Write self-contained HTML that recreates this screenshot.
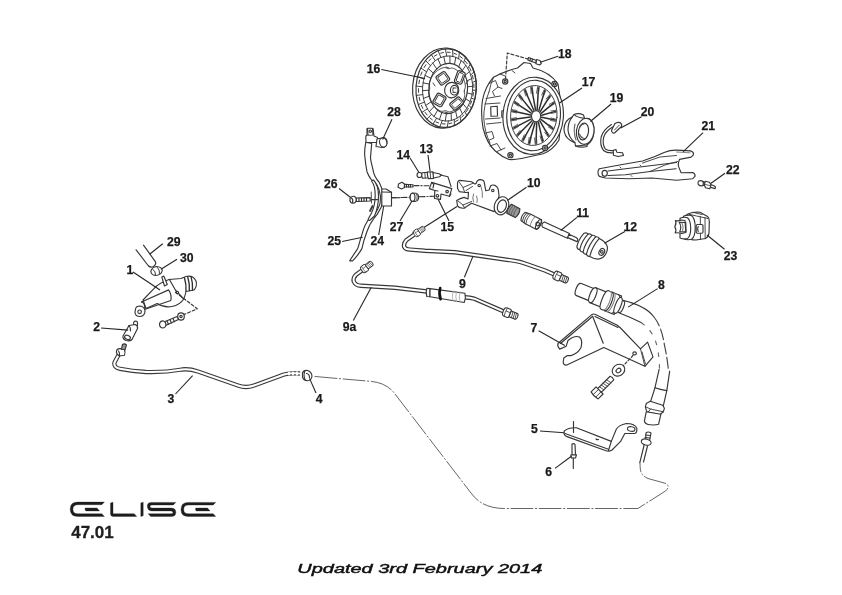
<!DOCTYPE html>
<html><head><meta charset="utf-8"><style>
html,body{margin:0;padding:0;background:#fff;}
svg{display:block;will-change:transform;}
.lbl text{font-family:"Liberation Sans",sans-serif;font-weight:bold;font-size:12.2px;fill:#1a1a1a;stroke:#1a1a1a;stroke-width:0.25px;}
.ld line{stroke:#262626;stroke-width:1.1;}
.p{fill:none;stroke:#363636;stroke-width:1.15;stroke-linejoin:round;stroke-linecap:round;}
.pf{fill:#fff;stroke:#363636;stroke-width:1.15;stroke-linejoin:round;}
</style></head><body>
<svg width="842" height="595" viewBox="0 0 842 595">
<rect width="842" height="595" fill="#fff"/>
<g class="p">
<!-- hose 29 -->
<path d="M136.1,249.8 L148.1,265.5 Q150.5,268.2 153.5,266.5 Q156.5,264.5 155.5,261.8 L143.5,245.2"/>
<!-- clip 30 -->
<path class="pf" d="M150.8,271.5 Q152,267 156.5,266.5 Q161.8,266.8 162.3,270.5 Q161.5,274.8 156,275.5 Q151.5,275.5 150.8,271.5Z" stroke-width="1.3"/>
<path d="M153,269.5 Q156,271.5 155.5,275 M157.5,267.5 Q160,270 159.5,273.5" stroke-width="1"/>
<!-- body -->
<path class="pf" d="M154.2,288.4 Q158,283.5 169,279.5 L181,278.5 L186,276.5 Q193,275 196,281 Q197.5,286 194,290 L186,291.5 Q185,296 183.7,299 Q180,305 172,306.5 Q164,308 157.2,303.5 L146,308.5 L143,300 Z"/>
<path d="M184.5,278 Q186.5,284.5 186,291.2 M187.8,277.2 Q189.8,283.5 189.3,290.6 M191,276.6 Q193,283 192.5,290" stroke-width="1.35" stroke="#2e2e2e"/>
<path d="M169.3,279.3 L175.4,290 L183.7,299"/>
<path d="M141.5,302 L168.6,289.9 M144.5,309.5 L170.8,300.5 Q172,295 168.6,289.9"/>
<path d="M141.5,302 Q145.5,303 144.5,309.5"/>
<path class="pf" d="M161.8,277 L163.8,276 L167.3,284.5 L164.5,286 Z"/>
<circle class="pf" cx="177.3" cy="292.5" r="1.2"/>
<!-- nut -->
<path class="pf" d="M135.5,309 Q136,306 140,306 Q144.5,306.5 145,311 Q145,316 140,316.5 Q135,316.5 135,312 Z"/>
<circle cx="139.6" cy="311.8" r="1.8"/>
<!-- dashed to washer -->
<path d="M175.4,292.2 L197.3,308.8 L181.4,315.6" stroke-dasharray="3,2"/>
<ellipse class="pf" cx="181" cy="316.5" rx="3.3" ry="3.6"/>
<circle cx="181" cy="316.5" r="1.2"/>
<!-- bolt -->
<path class="pf" d="M164,322 L177,316.5 L178.5,319.5 L165.5,325.5 Z"/>
<path d="M167,321 L168.5,324.2 M170,319.8 L171.5,323 M173,318.6 L174.5,321.8"/>
<path class="pf" d="M159.5,324 Q160,320.5 163.5,321 Q166,322 166,325 Q165.5,328 162.5,328 Q159.5,327.5 159.5,324Z"/>
</g>
<g class="p">
<path class="pf" d="M133.8,322 Q135,320.5 137,321.5 Q137.8,323 137.5,325 L136.5,326.5 L133.5,325 Z"/>
<path class="pf" d="M129,325.5 L135.5,324.5 Q138,326 137.5,328.5 L132,339.5 Q130,341.5 126,340.5 Q122.5,339 123,336 Z"/>
<ellipse cx="127.5" cy="337.4" rx="3" ry="2" transform="rotate(20 127.5 337.4)"/>
<path d="M129,325.5 Q131,328 130.5,331"/>
</g>
<path d="M118.5,355 L114.5,362.5 Q113.5,367.5 120,368.8 Q132,371 146,372 Q165,372.5 182,369.5 Q189,368.5 198,371.5 L238,385.5 Q246,388.5 254,385.5 L284,374.5 Q290,372.8 300,373.5" fill="none" stroke="#3a3a3a" stroke-width="4.3" stroke-linejoin="round"/>
<path d="M118.5,355 L114.5,362.5 Q113.5,367.5 120,368.8 Q132,371 146,372 Q165,372.5 182,369.5 Q189,368.5 198,371.5 L238,385.5 Q246,388.5 254,385.5 L284,374.5 Q290,372.8 300,373.5" fill="none" stroke="#fff" stroke-width="2.1" stroke-linejoin="round"/>
<path d="M288,372.4 L300,372.2 M288,374.6 L300,374.8" stroke="#fff" stroke-width="1.3" stroke-dasharray="2,2"/>
<g class="p">
<path class="pf" d="M116.5,351 Q117,348.5 120,348.6 L124.5,349.5 Q125.5,352.5 124.5,355.3 L119.5,356 Q116,354 116.5,351Z"/>
<path d="M118.5,351 Q120,353 119.5,355.5"/>
<path d="M121.4,349.3 L122.5,344.5 Q124.5,343 126.4,345 L125,349.8 Z" fill="#999"/>
</g>
<g class="p">
<path class="pf" d="M302.5,373 Q303.5,370 307.5,370.5 Q311.5,371.5 312,376 Q311.5,380.5 307.5,380.8 Q303.5,380.5 302.5,377 Z"/>
<path d="M304.8,371 Q303,376 305.5,380.5 M306.5,373.5 Q309.5,374 309.5,377.5"/>
<path d="M315,376.5 L371.3,381.4 Q387,383 395,394 L471,493 Q482,508.5 504.3,508.5 L637.9,508.5 L665.5,491 Q670.5,486.5 666,483.5 L648,478.5 Q640.5,475.5 640.2,468 L640,463" stroke="#555" stroke-width="0.9" stroke-dasharray="22,2.5,1.2,2.5"/>
</g>
<g class="p">
<path class="pf" d="M592.1,314.4 Q593.5,313.5 595.5,314.5 L616.8,325 L620,327.5 L640.5,348.8 L647.6,342.1 L653,356.9 L644.9,366.3 L603.8,347.4 L566.8,365 Q563.5,365.5 563.2,362 L563.8,358 L567.4,355.6 L570.9,355.6 Q578,353.5 581,347.5 Q583,340 579.5,337 Q574.5,335 568,340.5 L566.2,346.2 L559.7,349.1 Q557,346 558,343.5 L560.3,341.5 Z"/>
<path d="M560.5,343.5 L592.5,316.5 M595,316.5 L618,327.5"/>
<path d="M592.6,316.2 L603.2,343.2"/>
<path d="M640.5,348.8 L644.9,366.3 M642,352 L645.5,364" stroke-width="0.9"/>
<ellipse cx="634.6" cy="353.4" rx="1.8" ry="1.5"/>
<path d="M633,355.5 L622,367" stroke-dasharray="2.5,2"/>
<ellipse class="pf" cx="618.5" cy="370.2" rx="6.6" ry="5.6" transform="rotate(-35 618.5 370.2)"/>
<ellipse cx="618.5" cy="370.5" rx="2.6" ry="2" transform="rotate(-35 618.5 370.5)"/>
<g transform="translate(598.5,391.5) rotate(-45)">
<path class="pf" d="M1,-2.6 L19,-2.6 Q20.5,0 19,2.6 L1,2.6 Z"/>
<path d="M4,-2.6 L5,2.6 M6.5,-2.6 L7.5,2.6 M9,-2.6 L10,2.6 M11.5,-2.6 L12.5,2.6 M14,-2.6 L15,2.6" stroke-width="0.8"/>
<path class="pf" d="M-5.5,-5 L1.5,-5 L1.5,5 L-5.5,5 Q-7,0 -5.5,-5Z"/>
<path d="M-5.5,-1.5 L1.5,-1.5 M-5.5,2 L1.5,2" stroke-width="0.9"/>
</g>
</g>
<g class="p">
<g transform="translate(578,289.2) rotate(22)">
<path class="pf" d="M1,-6.5 L17,-6.5 L17,6.5 L1,6.5 Q-2,6.5 -2,0 Q-2,-6.5 1,-6.5Z"/>
<path class="pf" d="M16,-8 L31,-8 L31,8 L16,8 Q13,8 13,0 Q13,-8 16,-8Z"/>
<path d="M16,-8 Q19,-8 19,0 Q19,8 16,8"/>
<path class="pf" d="M29,-10 L43,-10 L43,10 L29,10 Q26,10 26,0 Q26,-10 29,-10Z"/>
<path d="M31,-10 Q34,-9 34,0 Q34,9 31,10 M35,-10 Q38,-9 38,0 Q38,9 35,10" stroke="#888"/>
<path d="M33,-10 Q36,-9 36,0 Q36,9 33,10"/>
<path d="M40,-10 Q43,-9 43,0 Q43,9 40,10"/>
<path class="pf" d="M43,-8.5 Q46,-8.5 46,0 Q46,8.5 43,8.5 Q40.5,8.5 40.5,0 Q40.5,-8.5 43,-8.5Z"/>
<path d="M47,-6 Q49,-6 49,0 Q49,6 47,6"/>
</g>
<path d="M623,300.4 Q645,305.5 653.6,316.5"/>
<path d="M653.6,316.5 Q661.5,326 664.4,344.8 Q667,356 668.5,371" stroke="#444" stroke-dasharray="11,3.5"/>
<path d="M618.2,312.5 Q630,317 641,322.5"/>
<path d="M641,322.5 Q651,329 655.5,341 Q659,351 659.5,368" stroke="#666" stroke-dasharray="4,8"/>
<path d="M669.7,371.2 L666.8,390.6 L663.3,405.9 M659.1,369.4 L655,387.7 L650.3,402.4"/>
<path d="M655,387.7 Q660,389.5 666.8,390.6"/>
<path class="pf" d="M646.2,403.6 L650.3,401.2 L662.7,405.3 L664.4,408.3 L663.3,411.8 L659.7,414.8 L646.8,411.8 L645.4,407.1 Z"/>
<path d="M646,407 L650.5,409 L662,411.5 M650.5,409 L648,412.3 M662,411.5 L663.3,411.8" stroke-width="0.9"/>
<path class="pf" d="M646.2,411.8 L644.4,421.2 Q645.5,424.5 650.3,424.8 Q655,425.3 658.6,424.2 L660.9,414.2 Z"/>
<!-- lower fitting -->
<path class="pf" d="M646,433 Q648,431 651,433 L649.5,441 L645.5,440.5 Z"/>
<path d="M645.5,435 L650.5,435.5 M645,437.5 L650,438"/>
<ellipse class="pf" cx="646.2" cy="442.1" rx="5" ry="3" transform="rotate(15 646.2 442.1)"/>
<path d="M644,445.5 L639.8,462.7 M647.5,446 L643.5,462"/>
</g>
<g class="p">
<path class="pf" d="M576.4,427.8 L611.3,441.4 L616.3,429.2 Q619,425 626.3,423.5 Q635,423.5 636.9,428.5 Q637,433 634.8,433.5 L624.8,433.5 L620.6,441.4 L612,450 Q609,452 606,450.8 L566.4,436.4 Q563,434.5 564.3,431 Q568,427.5 576.4,427.8Z"/>
<path d="M565,433.5 L608.4,449.3"/>
<path d="M611.3,441.4 L608.5,450.5"/>
<ellipse cx="631.2" cy="429" rx="3.8" ry="2.3" transform="rotate(10 631.2 429)"/>
<path d="M573.5,421.5 L573.5,432.5"/>
<path d="M596,439 Q597,440 598.5,439.5"/>
<path class="pf" d="M572,444 Q574,443 575,444.5 L575.5,455 L572,455 Z"/>
<path class="pf" d="M570.8,455 L576.5,454.8 L575.5,458 L571.5,458 Z"/>
<path d="M573.3,458 L573.3,468.5"/>
</g>
<g class="p">
<path d="M416.5,233 L406.5,240 Q403.2,243.5 404.2,246.8 Q405.5,249.5 410,249.6 L425,250.8 Q440,251.4 455,252.2 L515,260.9 Q520,261.6 525,263.5 L545,270.5 L555,274.8" stroke-width="4.4" stroke="#383838" stroke-linejoin="round"/>
<path d="M416.5,233 L406.5,240 Q403.2,243.5 404.2,246.8 Q405.5,249.5 410,249.6 L425,250.8 Q440,251.4 455,252.2 L515,260.9 Q520,261.6 525,263.5 L545,270.5 L555,274.8" stroke-width="2.0" stroke="#fff" stroke-linejoin="round"/>
<path d="M363.3,269.4 L356,274.8 Q352.8,277.8 353.8,281.5 Q355.5,285.5 361,285.8 L395,287.8 L427,291.5" stroke-width="4.4" stroke="#383838" stroke-linejoin="round"/>
<path d="M363.3,269.4 L356,274.8 Q352.8,277.8 353.8,281.5 Q355.5,285.5 361,285.8 L395,287.8 L427,291.5" stroke-width="2.0" stroke="#fff" stroke-linejoin="round"/>
<path d="M464.5,297.3 Q470,297.8 474.3,298.7 L504,311.6" stroke-width="4.4" stroke="#383838" stroke-linejoin="round"/>
<path d="M464.5,297.3 Q470,297.8 474.3,298.7 L504,311.6" stroke-width="2.0" stroke="#fff" stroke-linejoin="round"/>
<g transform="translate(414.5,234.5) rotate(-34) scale(0.75)">
<path class="pf" d="M0,-3.2 Q0.5,-4.6 2.5,-4.6 L6,-4.6 Q7.5,-4.6 7.5,-3 L7.5,3 Q7.5,4.6 6,4.6 L2.5,4.6 Q0.5,4.6 0,3.2 Q-0.8,0 0,-3.2Z"/>
<path d="M2.5,-4.4 Q1.8,0 2.5,4.4 M2.8,-1.2 L7.2,-1.2" stroke-width="0.8"/>
<path class="pf" d="M7.5,-3.2 L14.5,-3.2 Q16,-3.2 16,0 Q16,3.2 14.5,3.2 L7.5,3.2 Z"/>
<path d="M9.5,-3.2 L10.3,3.2 M11.5,-3.2 L12.3,3.2 M13.5,-3.2 L14.3,3.2" stroke-width="0.8"/>
</g>
<g transform="translate(554,274.5) rotate(24) scale(0.95)">
<path class="pf" d="M0,-3.2 Q0.5,-4.6 2.5,-4.6 L6,-4.6 Q7.5,-4.6 7.5,-3 L7.5,3 Q7.5,4.6 6,4.6 L2.5,4.6 Q0.5,4.6 0,3.2 Q-0.8,0 0,-3.2Z"/>
<path d="M2.5,-4.4 Q1.8,0 2.5,4.4 M2.8,-1.2 L7.2,-1.2" stroke-width="0.8"/>
<path class="pf" d="M7.5,-3.2 L14.5,-3.2 Q16,-3.2 16,0 Q16,3.2 14.5,3.2 L7.5,3.2 Z"/>
<path d="M9.5,-3.2 L10.3,3.2 M11.5,-3.2 L12.3,3.2 M13.5,-3.2 L14.3,3.2" stroke-width="0.8"/>
</g>
<g transform="translate(362,270.5) rotate(-37) scale(0.8)">
<path class="pf" d="M0,-3.2 Q0.5,-4.6 2.5,-4.6 L6,-4.6 Q7.5,-4.6 7.5,-3 L7.5,3 Q7.5,4.6 6,4.6 L2.5,4.6 Q0.5,4.6 0,3.2 Q-0.8,0 0,-3.2Z"/>
<path d="M2.5,-4.4 Q1.8,0 2.5,4.4 M2.8,-1.2 L7.2,-1.2" stroke-width="0.8"/>
<path class="pf" d="M7.5,-3.2 L14.5,-3.2 Q16,-3.2 16,0 Q16,3.2 14.5,3.2 L7.5,3.2 Z"/>
<path d="M9.5,-3.2 L10.3,3.2 M11.5,-3.2 L12.3,3.2 M13.5,-3.2 L14.3,3.2" stroke-width="0.8"/>
</g>
<g transform="translate(503.5,311.2) rotate(22) scale(0.95)">
<path class="pf" d="M0,-3.2 Q0.5,-4.6 2.5,-4.6 L6,-4.6 Q7.5,-4.6 7.5,-3 L7.5,3 Q7.5,4.6 6,4.6 L2.5,4.6 Q0.5,4.6 0,3.2 Q-0.8,0 0,-3.2Z"/>
<path d="M2.5,-4.4 Q1.8,0 2.5,4.4 M2.8,-1.2 L7.2,-1.2" stroke-width="0.8"/>
<path class="pf" d="M7.5,-3.2 L14.5,-3.2 Q16,-3.2 16,0 Q16,3.2 14.5,3.2 L7.5,3.2 Z"/>
<path d="M9.5,-3.2 L10.3,3.2 M11.5,-3.2 L12.3,3.2 M13.5,-3.2 L14.3,3.2" stroke-width="0.8"/>
</g>
<path class="pf" d="M426.8,288.3 L430,288.6 L430,296.8 L426.8,296.5 Q425.6,292.4 426.8,288.3 Z"/>
<path class="pf" d="M430,288.6 L464.9,293.2 Q466.2,297.8 464.2,302.5 L430,296.8 Z"/>
<path d="M440.2,288 Q438.6,293.5 440.6,299.2" stroke-width="2.6" stroke="#111"/>
<path d="M453,291 Q451.5,296.5 453,301 M456.5,291.5 Q455,296.8 456.5,301.5 M460,292 Q458.5,297 460,302" stroke="#aaa" stroke-width="0.9"/>

</g>
<g class="p">
<!-- 14 nut & 13 nipple -->
<circle class="pf" cx="419.5" cy="175" r="2.5"/>
<path class="pf" d="M422,172.8 L427.5,172.2 L428.5,177.8 L422.5,178.3 Q421.3,175.5 422,172.8Z"/>
<path class="pf" d="M427.5,172 L433,171.8 Q434,175 433.5,178.5 L428.3,178.6 Q427,175.3 427.5,172Z"/>
<path class="pf" d="M433,172.5 L439,173.8 L441.5,175 L439.5,176.8 L433.5,178 Z"/>
<path d="M424.8,172.5 L425.3,178 M430.2,172 L430.6,178.5" stroke-width="0.9"/>
<path d="M441.5,175.2 L448,176.8 L451,186.4" />
<!-- bolt -->
<path class="pf" d="M398.5,184 L402,182.3 L404.5,184 L404.5,187.5 L401.5,189 L398,187.2 Z"/>
<path class="pf" d="M404.5,184.3 L413,184.8 L413,187 L404.5,187 Z"/>
<path d="M406.5,184.3 L406.5,187 M408.5,184.5 L408.5,187 M410.5,184.5 L410.5,187"/>
<path d="M414,185.6 L431,185.8" stroke-dasharray="5,2,1,2"/>
<!-- bracket 15 -->
<path class="pf" d="M431.7,182.4 L451.8,188.6 L449.4,196.3 L441,194 L440.5,199.4 L434.5,198.5 L434.8,190.5 L429.4,188.6 Z"/>
<path d="M431.7,182.4 L433.8,184.5 L433,188 M434.8,190.5 L438,191 M449.4,196.3 L451,194"/>
<circle cx="447.1" cy="191.6" r="1.3"/>
<circle cx="437.4" cy="195.8" r="1.3"/>
<!-- dash line -->
<path d="M390,197.8 L409,197.3 M419,196.8 L434.5,196.3" stroke-dasharray="6,2,1,2"/>
<!-- spacer 27 -->
<path class="pf" d="M412.5,193 L416,193.3 Q418.8,194.5 418.6,197.5 Q418.5,200.8 415.5,201.3 L412.5,201.3 Q410,200 410,197 Q410.2,193.8 412.5,193Z"/>
<ellipse cx="412.6" cy="197.2" rx="2.4" ry="4" class="pf"/>
<path d="M416.5,194 Q418,197 416.5,200.5" stroke="#777" stroke-width="1.2"/>
<!-- leaders 13 14 15 27 -->
</g>
<g class="p">
<!-- 10 body -->
<path class="pf" d="M457.5,183 Q458,180.5 460,180.4 L471.6,181.7 L475,184.1 L476.2,183.3 Q477,179.8 480,179.6 Q483.5,179.5 484.1,181.7 L485.8,190.8 L489.1,190 L490.7,185.8 Q492.5,184.5 494.9,185.4 Q497.5,186.5 498.2,189.1 L499.1,196 L494.1,211.6 L471.6,203.3 L464,208.2 Q459,208.5 457.5,205.8 L456.7,200.5 Q460,198.5 464.1,197.4 L468,199 L468.5,192.3 L465.8,192.5 L459.2,191.6 L457.5,188.3 Z"/>
<path d="M459.5,182.5 L463,187.5 L464.5,191.8 M463,187.5 L473.5,183 M466,190.5 L472.5,186.5" stroke-width="0.9"/>
<path d="M458,201 L463,205 L464.5,208 M463,205 L471.6,201.5" stroke-width="0.9"/>
<path d="M480.8,185.8 Q483,192 482.4,197.4 M473.5,194 Q472,198 473.5,202 M476.5,196 Q478,199 477,202.5" stroke="#666" stroke-width="0.9"/>
<circle cx="479.1" cy="185.4" r="1.2"/>
<circle cx="492.8" cy="190.4" r="1.2"/>
<ellipse class="pf" cx="501.5" cy="205.8" rx="7" ry="9.3" transform="rotate(20 501.5 205.8)"/>
<ellipse cx="501.9" cy="206.1" rx="4.3" ry="6.4" transform="rotate(20 501.9 206.1)"/>
<!-- spring -->
<g transform="translate(514,211.3) rotate(28)">
<path d="M-5.5,-5 L4,-5 Q6.5,0 4,5 L-5.5,5 Q-7.5,0 -5.5,-5Z" fill="#9a9a9a" stroke="#333"/>
<path d="M-3.5,-5 Q-5,0 -3.5,5 M-1,-5 Q-2.5,0 -1,5 M1.5,-5 Q0,0 1.5,5" stroke="#555" stroke-width="0.8"/>
</g>
<!-- piston -->
<g transform="translate(531,220.5) rotate(27)">
<path class="pf" d="M-9,-4.5 Q-11,0 -9,4.5 L-3,5.5 L9,5.5 Q11.5,0 9,-5.5 L-3,-5.5 Z"/>
<path d="M-7,-5 Q-9,0 -7,5 M-5,-5.3 Q-7,0 -5,5.3 M-3,-5.5 Q-5,0 -3,5.5" stroke="#444" stroke-width="0.9"/>
<path d="M2,-5.5 Q0,0 2,5.5" stroke="#777" stroke-width="0.9"/>
<ellipse cx="8.5" cy="0" rx="2" ry="5.3"/>
<circle cx="7.5" cy="0" r="1.8"/>
</g>
<!-- rod 11 -->
<path class="pf" d="M544.5,222 L569.5,233.6 L567.5,238.2 L542.4,227 Q540.8,223.8 544.5,222Z"/>
<path class="pf" d="M569,234.2 L576.5,237.8 Q578.8,239.8 577,241.6 L567.6,237.6 Z"/>
<!-- boot 12 -->
<g transform="translate(592.3,246.3) rotate(28)">
<path class="pf" d="M-13.5,-7.5 Q-11.5,-10 -9.5,-8.8 Q-7.5,-10.8 -5.5,-9.4 Q-3.5,-11.2 -1.5,-9.9 Q0.5,-11.5 2.5,-10.2 Q15.5,-10.5 15.5,0 Q15.5,10.5 2.5,10.2 Q0.5,11.5 -1.5,9.9 Q-3.5,11.2 -5.5,9.4 Q-7.5,10.8 -9.5,8.8 Q-11.5,10 -13.5,7.5 Q-15.5,0 -13.5,-7.5Z"/>
<path d="M-9.5,-8.8 Q-12,0 -9.5,8.8 M-5.5,-9.4 Q-8,0 -5.5,9.4 M-1.5,-9.9 Q-4,0 -1.5,9.9 M2.5,-10.2 Q0,0 2.5,10.2"/>
<ellipse cx="11" cy="0.5" rx="2.6" ry="3.6"/>
<circle cx="11" cy="0.5" r="1.3"/>
</g>
</g>
<g class="p">
<path class="pf" d="M365.8,142.3 Q364.3,150 364.7,155.2 Q365.5,164 367,171.7 Q370,180 376.3,183.9 Q379.5,188.9 380.4,195.9 Q380.5,203 379.5,205.1 Q378,209 376.3,211.6 L369.9,217.5 Q364.5,225 362.7,231.8 L360.2,240.2 Q359,245 357.7,248.6 Q354,254 349.7,260.8 L352.6,260.8 Q355,258.5 356.8,256.2 Q360,252 361.9,248.6 L364,240.2 L366.9,231.8 Q369,225 374.5,217.5 L377.2,214.4 Q381.3,207 381.3,207 Q383,201 382.7,197.7 Q382.7,190 381.8,188.5 Q380,184 379,182 Q374,176.5 372.9,169.3 Q370.5,160 370.5,157.6 L371.7,143.5 Z"/>
<path class="pf" d="M371.5,181 Q375.5,186 375.2,196 Q375,206 371.5,213 L368.5,218.5 Q367.5,220.5 369.5,220.5 L374.5,216 Q378.5,207 378.5,196 Q378.5,185 373.5,180 Z"/>
<path d="M371.2,192 L371.5,203" stroke-width="0.9"/>
<path d="M370,211 L372.5,206" stroke-width="1.8"/>
<!-- top clamp -->
<path class="pf" d="M367,128.5 L373,128.5 L374,136 L377.5,137.5 L377.5,142.5 L366,142.5 L365.8,136 L367,135.3 Z"/>
<path class="pf" d="M367.5,128.2 L372.5,128.2 L373,135 L368,135.3 Z"/>
<circle cx="370.3" cy="131.2" r="1.2"/>
<path class="pf" d="M377,139 L384,137.5 Q387.5,139 387,143 Q386,147 382.5,147.5 L376,146.5 Z"/>
<ellipse class="pf" cx="383.2" cy="142.5" rx="3.6" ry="4.6" transform="rotate(-15 383.2 142.5)"/>
<!-- clamp 24 -->
<path class="pf" d="M381.8,189 L386,189 L391.5,192.2 L391.5,206 L381.8,206 Z"/>
<path d="M381.8,192 L391.5,192.2"/>
<!-- bolt 26 -->
<path class="pf" d="M350,198.5 Q351,196 354,196.3 Q356.6,197.5 356.4,200 Q356,203 353,203.3 Q350,203 350,200.5 Z"/>
<path d="M351.5,198 Q353.5,199.5 352.5,202.5"/>
<path class="pf" d="M356.4,198 L370.2,197.6 L370.2,201 L356.4,201.5 Z"/>
<path d="M359,198 L359,201.3 M361.5,197.9 L361.5,201.2 M364,197.8 L364,201.1 M366.5,197.7 L366.5,201.1"/>
<path d="M371.6,199.6 L377.6,199.6 M391.5,197.7 L400,197.7" stroke-dasharray="6,2,1,2"/>
</g>
<g class="p"><ellipse class="pf" cx="444.40" cy="88.10" rx="31.80" ry="40.10" transform="rotate(4 444.40 88.10)" /><ellipse  cx="446.20" cy="88.10" rx="30.20" ry="39.30" transform="rotate(4 446.20 88.10)" /><ellipse  cx="447.60" cy="88.50" rx="25.07" ry="32.62" transform="rotate(4 447.60 88.50)" stroke-width="0.9"/><ellipse  cx="448.20" cy="88.50" rx="19.33" ry="25.15" transform="rotate(4 448.20 88.50)" /><path d="M476.3,90.2 L472.6,90.2 M472.1,94.2 L467.1,92.9 M473.5,92.6 L472.9,96.1 M474.8,99.5 L471.3,98.0 M470.2,101.7 L465.6,98.7 M471.7,101.0 L470.4,104.2 M471.6,108.2 L468.7,105.2 M466.9,108.4 L463.1,103.9 M468.3,108.6 L466.5,111.5 M466.9,115.7 L464.8,111.4 M462.5,114.0 L459.7,108.2 M463.7,115.1 L461.5,117.3 M461.1,121.6 L459.9,116.3 M457.2,118.1 L455.6,111.3 M458.1,120.0 L455.5,121.5 M454.3,125.5 L454.3,119.5 M451.4,120.5 L451.1,113.2 M451.7,123.0 L449.0,123.7 M447.1,127.3 L448.4,121.0 M445.3,121.0 L446.4,113.6 M445.1,124.0 L442.3,123.8 M439.8,126.8 L442.3,120.6 M439.4,119.7 L441.9,112.5 M438.5,122.9 L435.9,121.9 M433.0,124.0 L436.6,118.3 M434.0,116.5 L437.7,110.1 M432.3,119.8 L430.0,118.0 M426.8,119.2 L431.5,114.3 M429.3,111.7 L434.1,106.4 M427.0,114.9 L425.1,112.4 M421.8,112.5 L427.4,108.8 M425.7,105.5 L431.3,101.6 M422.8,108.4 L421.4,105.3 M418.3,104.5 L424.4,102.1 M423.4,98.4 L429.5,96.1 M419.9,100.7 L419.2,97.3 M416.3,95.4 L422.8,94.6 M422.5,90.7 L428.8,90.2 M418.6,92.3 L418.5,88.7 M416.1,86.0 L422.6,86.8 M423.1,82.8 L429.3,84.1 M418.9,83.6 L419.5,80.1 M417.6,76.7 L423.9,79.0 M425.0,75.3 L430.8,78.3 M420.7,75.2 L422.0,72.0 M420.8,68.0 L426.5,71.8 M428.3,68.6 L433.3,73.1 M424.1,67.6 L425.9,64.7 M425.5,60.5 L430.4,65.6 M432.7,63.0 L436.7,68.8 M428.7,61.1 L430.9,58.9 M431.3,54.6 L435.3,60.7 M438.0,58.9 L440.8,65.7 M434.3,56.2 L436.9,54.7 M438.1,50.7 L440.9,57.5 M443.8,56.5 L445.3,63.8 M440.7,53.2 L443.4,52.5 M445.3,48.9 L446.8,56.0 M449.9,56.0 L450.0,63.4 M447.3,52.2 L450.1,52.4 M452.6,49.4 L452.9,56.4 M455.8,57.3 L454.5,64.5 M453.9,53.3 L456.5,54.3 M459.4,52.2 L458.6,58.7 M461.2,60.5 L458.7,66.9 M460.1,56.4 L462.4,58.2 M465.6,57.0 L463.7,62.7 M465.9,65.3 L462.3,70.6 M465.4,61.3 L467.3,63.8 M470.6,63.7 L467.8,68.2 M469.5,71.5 L465.1,75.4 M469.6,67.8 L471.0,70.9 M474.1,71.7 L470.8,74.9 M471.8,78.6 L466.9,80.9 M472.5,75.5 L473.2,78.9 M476.1,80.8 L472.4,82.4 M472.7,86.3 L467.6,86.8 M473.8,83.9 L473.9,87.5" stroke-width="0.95"/><path stroke-width="0.9" d="M464.3,90.9 L464.3,92.0 L464.5,93.2 L464.7,94.4 L464.7,95.6 L464.5,96.8 L464.2,97.9 L463.8,99.0 L463.3,100.1 L462.8,101.1 L462.3,102.1 L461.7,103.1 L461.1,104.0 L460.4,104.9 L459.7,105.7 L459.0,106.6 L458.2,107.3 L457.5,108.0 L456.6,108.7 L455.8,109.3 L454.9,109.9 L454.0,110.4 L453.1,110.8 L452.2,111.2 L451.2,111.5 L450.3,111.8 L449.3,111.9 L448.3,111.7 L447.4,111.3 L446.4,110.9 L445.5,110.7 L444.6,110.8 L443.6,111.1 L442.6,111.3 L441.6,111.3 L440.7,111.1 L439.8,110.7 L438.9,110.3 L438.0,109.8 L437.2,109.2 L436.4,108.6 L435.6,107.9 L434.8,107.2 L434.1,106.4 L433.4,105.6 L432.8,104.7 L432.2,103.8 L431.6,102.9 L431.1,101.9 L430.6,100.9 L430.1,99.8 L429.8,98.8 L429.4,97.7 L429.1,96.6 L428.9,95.4 L428.7,94.3 L428.6,93.1 L428.8,91.9 L429.1,90.7 L429.5,89.6 L429.7,88.5 L429.7,87.4 L429.5,86.2 L429.3,85.0 L429.3,83.8 L429.5,82.6 L429.8,81.5 L430.2,80.4 L430.7,79.3 L431.2,78.3 L431.7,77.3 L432.3,76.3 L432.9,75.4 L433.6,74.5 L434.3,73.7 L435.0,72.8 L435.8,72.1 L436.5,71.4 L437.4,70.7 L438.2,70.1 L439.1,69.5 L440.0,69.0 L440.9,68.6 L441.8,68.2 L442.8,67.9 L443.7,67.6 L444.7,67.5 L445.7,67.7 L446.6,68.1 L447.6,68.5 L448.5,68.7 L449.4,68.6 L450.4,68.3 L451.4,68.1 L452.4,68.1 L453.3,68.3 L454.2,68.7 L455.1,69.1 L456.0,69.6 L456.8,70.2 L457.6,70.8 L458.4,71.5 L459.2,72.2 L459.9,73.0 L460.6,73.8 L461.2,74.7 L461.8,75.6 L462.4,76.5 L462.9,77.5 L463.4,78.5 L463.9,79.6 L464.2,80.6 L464.6,81.7 L464.9,82.8 L465.1,84.0 L465.3,85.1 L465.4,86.3 L465.2,87.5 L464.9,88.7 L464.5,89.8 L464.3,90.9"/><g transform="translate(442.8,78.3) rotate(-35)"><rect class="pf" x="-5.5" y="-5.25" width="11" height="10.5" rx="2"/><rect x="-3.9" y="-3.65" width="7.8" height="7.3" rx="1" stroke-width="0.9"/></g><g transform="translate(459.8,77.4) rotate(20)"><rect class="pf" x="-4.0" y="-6.25" width="8" height="12.5" rx="2"/><rect x="-2.4" y="-4.65" width="4.8" height="9.3" rx="1" stroke-width="0.9"/></g><g transform="translate(439.5,99.9) rotate(30)"><rect class="pf" x="-5.0" y="-5.75" width="10" height="11.5" rx="2"/><rect x="-3.4" y="-4.15" width="6.8" height="8.3" rx="1" stroke-width="0.9"/></g><g transform="translate(456.6,103.5) rotate(50)"><rect class="pf" x="-4.25" y="-6.25" width="8.5" height="12.5" rx="2"/><rect x="-2.65" y="-4.65" width="5.3" height="9.3" rx="1" stroke-width="0.9"/></g><ellipse class="pf" cx="451.70" cy="90.10" rx="7.10" ry="7.80" transform="rotate(4 451.70 90.10)" /><ellipse  cx="454.20" cy="90.20" rx="3.80" ry="4.80" transform="rotate(4 454.20 90.20)" /><path d="M453,88 L456,88 M453,92.4 L456,92.4 M453.3,88 Q452,90.2 453.3,92.4" stroke-width="0.9"/><path d="M433,83 L435,86 M466,84 L468,81 M446,67 L449,68 M445,112 L448,113" stroke-width="0.9"/></g>
<g class="p"><path class="pf" d="M493.5,77.2 Q505,71 517.5,68 L524,62.5 L530.5,63.5 L533,68 Q550,72 558,84 L562,110 L559,140 Q553,150 543.2,153.8 L521.4,158.5 Q514,160 509,159.5 Q502,157 495.3,151 Q487,144 483,128 Q480.5,113 482.5,100 Q485,87 493.5,77.2Z"/><path d="M488.9,92 Q483.5,106 483.8,118 Q484.5,132 490,143 M493.5,77.2 Q490.5,84 489,92" stroke-width="0.9"/><path d="M486,98.5 L500.5,96 M485,104 L500,103 M485.5,119 L500,118 M486.5,124 L501,122.5" stroke-width="0.9"/><path class="pf" d="M490.7,106.7 L497.2,106.2 L497.5,116 L491,116.3 Z"/><path d="M489,83.5 L495.5,80.5 L498,87 L492.5,91.5 L494.5,96 M498,87 L502,88.5" stroke-width="0.9"/><path d="M485.5,133 L492,131.5 L494,138 L489.5,140 M490,146 L497,143.5 L501,150 M497,151.5 L505,148" stroke-width="0.9"/><path d="M500,74 L505,76 M512,70.5 L515,73" stroke-width="0.9"/><path class="pf" d="M501.8,111 Q503.5,110 505.5,111 L505.5,116.9 Q503.5,118 501.8,116.9 Z"/><ellipse class="pf" cx="533.20" cy="115.80" rx="30.20" ry="38.60" transform="rotate(5 533.20 115.80)" /><ellipse  cx="533.60" cy="115.50" rx="26.80" ry="35.30" transform="rotate(5 533.60 115.50)" /><ellipse  cx="533.80" cy="115.50" rx="23.20" ry="30.00" transform="rotate(5 533.80 115.50)" stroke-width="0.9"/><path d="M541.6,117.3 L554.9,120.1 M541.0,119.3 L552.5,128.4 M539.9,120.9 L548.2,135.4 M538.4,122.1 L542.5,140.5 M536.7,122.7 L536.0,143.1 M535.0,122.7 L529.2,143.0 M533.3,122.0 L522.9,140.2 M532.0,120.8 L517.7,135.0 M531.0,119.1 L514.0,127.9 M530.5,117.1 L512.3,119.6 M530.6,115.1 L512.7,110.9 M531.2,113.1 L515.1,102.6 M532.3,111.5 L519.4,95.6 M533.8,110.3 L525.1,90.5 M535.5,109.7 L531.6,87.9 M537.2,109.7 L538.4,88.0 M538.9,110.4 L544.7,90.8 M540.2,111.6 L549.9,96.0 M541.2,113.3 L553.6,103.1 M541.7,115.3 L555.3,111.4" stroke-width="1.5" stroke="#2e2e2e"/><path d="M551.0,118.0 L556.0,119.2 L555.7,121.4 L550.6,120.5 M549.3,124.8 L553.7,128.0 L552.9,129.9 L548.4,127.0 M546.1,130.7 L549.5,135.5 L548.2,137.0 L544.7,132.4 M541.7,135.0 L543.7,141.0 L542.1,142.0 L540.0,136.1 M536.5,137.5 L536.9,144.1 L535.2,144.4 L534.6,137.9 M531.1,137.8 L529.9,144.3 L528.2,143.9 L529.2,137.4 M525.9,136.0 L523.2,141.7 L521.7,140.7 L524.2,134.8 M521.5,132.1 L517.6,136.6 L516.4,135.0 L520.2,130.3 M518.3,126.6 L513.5,129.4 L512.8,127.4 L517.5,124.4 M516.6,120.0 L511.5,120.8 L511.3,118.6 L516.4,117.6 M516.6,113.0 L511.6,111.8 L511.9,109.6 L517.0,110.5 M518.3,106.2 L513.9,103.0 L514.7,101.1 L519.2,104.0 M521.5,100.3 L518.1,95.5 L519.4,94.0 L522.9,98.6 M525.9,96.0 L523.9,90.0 L525.5,89.0 L527.6,94.9 M531.1,93.5 L530.7,86.9 L532.4,86.6 L533.0,93.1 M536.5,93.2 L537.7,86.7 L539.4,87.1 L538.4,93.6 M541.7,95.0 L544.4,89.3 L545.9,90.3 L543.4,96.2 M546.1,98.9 L550.0,94.4 L551.2,96.0 L547.4,100.7 M549.3,104.4 L554.1,101.6 L554.8,103.6 L550.1,106.6 M551.0,111.0 L556.1,110.2 L556.3,112.4 L551.2,113.4" stroke-width="0.8"/><ellipse class="pf" cx="536.10" cy="116.20" rx="4.60" ry="5.60" transform="rotate(5 536.10 116.20)" /><circle class="pf" cx="505.2" cy="81.5" r="2.6"/><circle cx="505.2" cy="81.5" r="1.1"/><circle class="pf" cx="554.5" cy="84" r="2.6"/><circle cx="554.5" cy="84" r="1.1"/><circle class="pf" cx="545.1" cy="148" r="2.6"/><circle cx="545.1" cy="148" r="1.1"/><circle class="pf" cx="510.4" cy="155.2" r="2.6"/><circle cx="510.4" cy="155.2" r="1.1"/><path d="M505.5,79 L507.3,53 L528,59" stroke-dasharray="3,2"/><path class="pf" d="M528.5,57.5 L536.5,60.5 L535.8,63 L527.8,60 Z"/><path d="M530.5,58.3 L529.8,61 M532.5,59 L531.8,61.7"/><path class="pf" d="M536.5,59.5 L540,60.5 L541.3,63.5 L539.5,65 L536,63.8 Z"/></g>
<g class="p">
<path class="pf" d="M572.1,117.1 L574,114.5 Q578.5,112.5 583.5,115 L584.5,118.2 L589.3,118.7 Q594.5,122 594,131.5 Q593.5,141 587,144.9 L587,146.5 Q581,148 575.5,146 L575,143 L570,140.3 Q564,136 564,129 Q564.5,120 572.1,117.1Z"/>
<path d="M572.1,117.1 Q568,122 568,130 Q568.5,137.5 575,142.5"/>
<path d="M574,114.5 Q576.5,117.5 584.5,118.2"/>
<path d="M575.5,146 L587,145"/>
<ellipse class="pf" cx="585.2" cy="131.3" rx="8.8" ry="13.1" transform="rotate(8 585.2 131.3)"/>
<ellipse cx="583.5" cy="131.5" rx="5" ry="8.5" transform="rotate(8 583.5 131.5)"/>
<path d="M580,127 Q581.5,124 584,124 M579.5,134 Q581,138 584.5,138.5" stroke="#555"/>
<path d="M575,124 Q573,131 576,140" stroke="#666"/>
</g>
<g class="p">
<path d="M611.5,124.5 Q603,130 601.2,137 Q599.5,145 603.5,150.5 Q607,153.3 613.5,152.8"/>
<path d="M612.6,127 Q605.2,131.5 603.6,137.5 Q602.2,144.5 605.3,149 Q608,151 613.3,150.6"/>
<path class="pf" d="M611.5,130.5 L614.8,123.8 Q617,121.8 620,122.6 Q622.3,124 621.5,126.5 L614.5,133 Q612,133.5 611.5,130.5Z"/>
<path d="M614.5,130 L619.2,125.2" stroke-width="0.9"/>
<path class="pf" d="M613.2,150.3 L616,149.6 L616.8,152.2 L622.5,152.8 L623.5,155.5 L618,156.5 L613.5,155.2 Z"/>
</g>
<g class="p">
<path class="pf" d="M599.3,168.7 L620.9,164.8 L642.5,161 Q655,157 664.1,152.5 Q670,150 676.5,150.1 L690.4,150.9 Q694,152 693.4,154.8 L691.1,157.1 L679.5,159.4 Q677.5,164 678.8,167.1 L681.1,172.7 L692.7,172.5 Q695.5,173.5 695,176.4 L692.7,178.7 L676.5,180.2 L651.8,178 L628.6,178.7 L605.4,178 L599.3,176.4 Q596.5,172.5 599.3,168.7Z"/>
<ellipse cx="604.7" cy="173.3" rx="2.6" ry="3" />
<path d="M608,171 L625.5,168.7 L648,166 L676.5,162.5 M608,175.5 L625.5,174.8 L650,171.5 L676,168.7"/>
<path d="M642.5,163 L660,157 L676.5,155.5 M650,171.5 L665,165 L677.5,161.5" stroke-width="0.9"/>
<path d="M620,167 L621,168 M631,175.5 L632,176.5 M640,165 L641,166" stroke-width="0.9"/>
<path d="M676.5,152 L690,152.8" stroke="#777" stroke-width="0.9"/>
</g>
<g class="p">
<path class="pf" d="M702.5,181.3 L714.5,186 Q716.2,187.3 715,188.6 L701.8,184.8 Z"/>
<path class="pf" d="M698.5,181.2 Q700.5,180 703,181.5 Q703.8,183.5 702.8,185.8 Q700,186.3 698.3,184.5 Q697.5,182.8 698.5,181.2Z"/>
<path class="pf" d="M705.3,181.3 L709.5,182.3 L711,185 L709.8,188.8 L705.5,187.8 L704.3,184.8 Z"/>
<path d="M705.5,184.5 L710.5,185.8" stroke-width="0.8"/>
</g>
<g class="p">
<path class="pf" d="M686.8,214.5 Q692,211.5 700,212.2 L707.5,216.5 Q709.5,218 709.3,221.5 L709,233 Q708.5,237 705.5,238.5 L696,240 Q690,240 686.8,238 Z"/>
<path d="M689,214.3 L696.5,216 L708,218.5 M700.3,216.5 L700.5,239.5 M705,217.5 L705.2,238.8" stroke-width="0.9"/>
<path d="M693,212.3 Q697,213.5 702,214.5" stroke-width="0.9"/>
<path class="pf" d="M683.4,216.2 Q687.5,214.5 691.5,215.5 Q695.2,218.5 695.2,227.5 Q695.2,237 691.5,239.3 Q687,240.5 683.4,238.5 Z"/>
<path class="pf" d="M680,218.3 Q684,216.5 687.5,217.8 Q690.7,220.5 690.7,228.3 Q690.7,236 687.5,238.6 Q683.5,239.5 680,238 Z"/>
<path class="pf" d="M675.4,220.6 Q678.5,221.3 681.5,220 L685,220.5 L685.8,232.5 L681.8,233.4 Q678.5,232.3 675.2,233 Q676.8,229.5 674.8,226.8 Q676.8,223.5 675.4,220.6 Z"/>
<path d="M679.2,222.3 L685.8,222.5 L686,231.8 L679.8,231.6 Q682,227 679.2,222.3Z"/>
<path d="M682,223 Q684,227 682.5,231" stroke="#888"/>
<rect class="pf" x="696.2" y="224.5" width="6.8" height="8.7" rx="1.2"/>
<path d="M698.2,226.5 Q697,229 698.2,231.5"/>
</g>
<g fill="#1e1e1e" stroke="#1e1e1e" stroke-width="0.35" stroke-linejoin="round">
<path d="M104.4,502.1 L77.5,502.1 Q70.2,502.1 70.2,509.25 Q70.2,516.4 77.5,516.4 L104.4,516.4 L101.8,513.8 L78,513.8 Q72.9,513.8 72.9,509.25 Q72.9,504.7 78,504.7 L101.8,504.7 Z"/>
<path d="M85.3,508 L97,508 L99.5,510.9 L85.8,510.9 Q84.5,509.5 85.3,508Z"/>
<path d="M110.5,503 L113,502.3 L113,513.8 L134.2,513.8 L136.7,516.4 L113,516.4 Q110.5,516.4 110.5,514 Z"/>
<path d="M140.8,502.9 L143.2,502.2 L143.2,515.8 L140.8,516.4 Z"/>
<path d="M175.8,502.4 L151,502.4 Q147.3,502.4 147.3,505.9 Q147.3,510.9 152,510.9 L171,510.9 Q173,510.9 173,512.4 Q173,513.8 171,513.8 L148.2,513.8 L150.7,516.4 L171.3,516.4 Q175.8,516.4 175.8,512.4 Q175.8,508.1 171.3,508.1 L152.3,508.1 Q150,508.1 150,506.4 Q150,505 152.2,505 L173.3,505 Z"/>
<path d="M215.7,502.4 L188,502.4 Q181,502.4 181,509.4 Q181,516.4 188,516.4 L215.7,516.4 L213.2,513.8 L188.5,513.8 Q183.7,513.8 183.7,509.4 Q183.7,505 188.5,505 L213.2,505 Z"/>
<path d="M195.8,508.1 L207.5,508.1 L210,510.9 L196.2,510.9 Q195,509.5 195.8,508.1Z"/>
</g>
<text x="71.2" y="537.8" style="font-family:'Liberation Sans',sans-serif;font-weight:bold;font-size:17px" fill="#1e1e1e" stroke="#1e1e1e" stroke-width="0.3">47.01</text>
<text transform="translate(297.3,572.8) scale(1.535,1)" x="0" y="0" style="font-family:'Liberation Sans',sans-serif;font-style:italic;font-size:13px" fill="#111" stroke="#111" stroke-width="0.45">Updated 3rd February 2014</text>

<g class="ld"><line x1="162.7" y1="243.8" x2="149.6" y2="254.3"/><line x1="177" y1="259.2" x2="161" y2="269.3"/><line x1="133" y1="272" x2="160" y2="290"/><line x1="101" y1="328" x2="128.2" y2="330.1"/><line x1="175.5" y1="394" x2="192.6" y2="375.6"/><line x1="316" y1="393" x2="309.5" y2="378.4"/><line x1="657.6" y1="288.6" x2="628.1" y2="307.1"/><line x1="538.6" y1="330.7" x2="564.8" y2="345.4"/><line x1="464.4" y1="277.3" x2="472.8" y2="256.6"/><line x1="353.3" y1="320.5" x2="371.3" y2="287.2"/><line x1="526.5" y1="187.3" x2="507.4" y2="200.4"/><line x1="577" y1="217.4" x2="560.7" y2="230.5"/><line x1="624.9" y1="231.6" x2="604.4" y2="243.3"/><line x1="611.1" y1="104" x2="590.4" y2="121.5"/><line x1="641.5" y1="116.7" x2="620.7" y2="127.9"/><line x1="703.1" y1="132.7" x2="683" y2="151.9"/><line x1="725" y1="173.2" x2="710.7" y2="183.5"/><line x1="724.5" y1="249.3" x2="707" y2="235"/><line x1="381.4" y1="69.5" x2="425" y2="78.5"/><line x1="558" y1="56.3" x2="540.3" y2="62.3"/><line x1="392" y1="119.2" x2="382.6" y2="139.4"/><line x1="582" y1="88" x2="559.5" y2="103"/><line x1="339" y1="188.5" x2="350.6" y2="197.5"/><line x1="378.7" y1="235" x2="383.7" y2="206"/><line x1="342.1" y1="241.5" x2="362.7" y2="237.3"/><line x1="540" y1="431" x2="564.3" y2="432.8"/><line x1="410" y1="158" x2="419" y2="172.5"/><line x1="428" y1="155" x2="430" y2="171"/><line x1="449" y1="221" x2="438" y2="199"/><line x1="400" y1="221" x2="412" y2="201"/><line x1="423.9" y1="227.5" x2="457" y2="206.5"/><line x1="555" y1="468.4" x2="571.4" y2="456.3"/></g>
<g class="lbl"><text x="126.6" y="273.8">1</text><text x="93.2" y="331.3">2</text><text x="167.6" y="403.4">3</text><text x="315.8" y="403.3">4</text><text x="531.0" y="432.9">5</text><text x="545.2" y="475.7">6</text><text x="530.6" y="331.6">7</text><text x="657.9" y="288.5">8</text><text x="459.0" y="287.9">9</text><text x="342.7" y="331.1">9a</text><text x="527.1" y="187.4">10</text><text x="576.2" y="216.7">11</text><text x="623.5" y="230.9">12</text><text x="419.4" y="152.6">13</text><text x="396.6" y="158.8">14</text><text x="440.4" y="230.6">15</text><text x="366.8" y="72.5">16</text><text x="581.8" y="86.3">17</text><text x="558.1" y="57.5">18</text><text x="609.7" y="101.7">19</text><text x="640.7" y="116.0">20</text><text x="701.4" y="129.8">21</text><text x="726.0" y="173.5">22</text><text x="723.7" y="259.8">23</text><text x="370.5" y="245.4">24</text><text x="327.5" y="245.4">25</text><text x="324.0" y="187.6">26</text><text x="389.8" y="230.6">27</text><text x="387.2" y="115.8">28</text><text x="167.0" y="245.5">29</text><text x="180.1" y="261.7">30</text></g>
</svg>
</body></html>
